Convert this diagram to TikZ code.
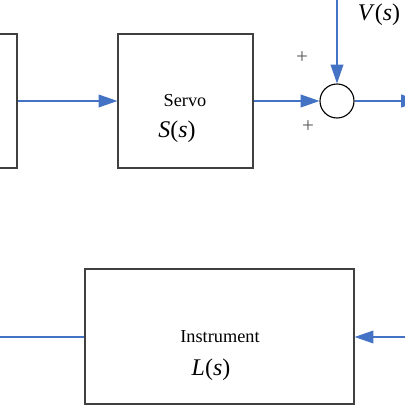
\documentclass[tikz,border=0pt]{standalone}
\usepackage{fontspec}
\setmainfont{Liberation Serif}
\usetikzlibrary{arrows.meta,positioning}
\definecolor{wire}{RGB}{68,114,196}
\begin{document}
\begin{tikzpicture}[
		x=0.025cm, y=-0.025cm,
		block/.style = {draw=black!75, line width=0.9pt, minimum width=3.375cm, minimum height=3.35cm},
		sig/.style = {wire, line width=0.8pt, -{Triangle[length=0.47cm, width=0.32cm]}},
		txt/.style = {font=\fontsize{13}{15}\selectfont},
		lbl/.style = {font=\fontsize{17}{20}\selectfont},
		sgn/.style = {font=\fontsize{15}{17}\selectfont, text=black!65},
	]
	\useasboundingbox (0,0) rectangle (405,405);
	\clip (0,0) rectangle (405,405);
	\fill[white] (0,0) rectangle (405,405);
	% forward path
	\node[block] (ctrl) at (-50.5,101) {};
	\node[block] (servo) at (185.5,101) {};
	\node[txt] (servotxt) at (185,101) {Servo};
	\node[lbl] (servotf) at (177,132) {\textit{S}(\textit{s})};
	\node[circle, draw=black, line width=0.8pt, minimum size=0.85cm, inner sep=0pt] (sum) at (337,101) {};
	\coordinate (vin) at (337,-5);
	\coordinate (out) at (420,101);
	\node[lbl] (vlbl) at (379,15) {\textit{V}(\textit{s})};
	\node[sgn] (pa) at (302,58) {+};
	\node[sgn] (pb) at (308,127) {+};
	\draw[sig] (ctrl) -- (servo);
	\draw[sig] (servo) -- (sum);
	\draw[sig] (vin) -- (sum);
	\draw[sig] (sum) -- (out);
	% feedback path
	\node[block, minimum width=6.725cm, minimum height=3.375cm] (instr) at (219.5,336.5) {};
	\node[txt] (instrtxt) at (220,337) {Instrument};
	\node[lbl] (instrtf) at (211,370) {\textit{L}(\textit{s})};
	\coordinate (fbin) at (410,337);
	\coordinate (fbout) at (-5,337);
	\draw[sig] (fbin) -- (instr.east |- fbin);
	\draw[wire, line width=0.8pt] (instr.west |- fbout) -- (fbout);
\end{tikzpicture}
\end{document}
